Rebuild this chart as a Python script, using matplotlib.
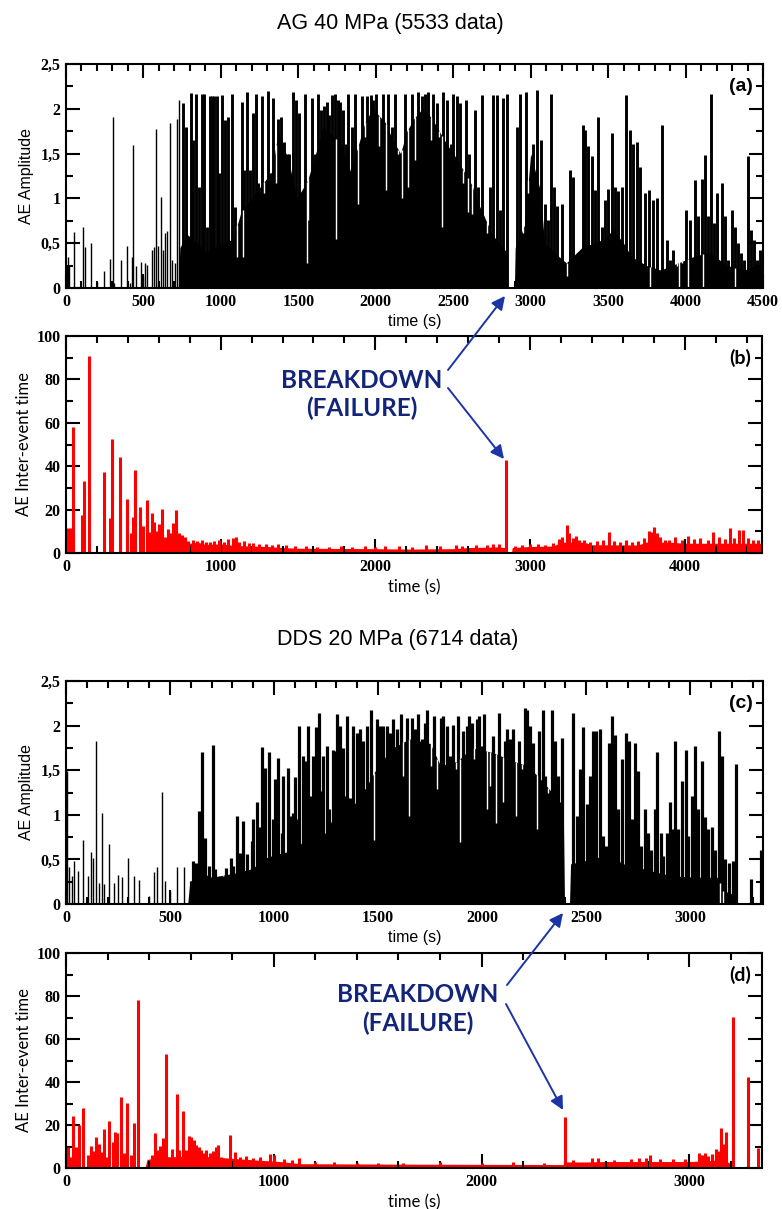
import matplotlib
matplotlib.use('Agg')
import matplotlib.pyplot as plt
from matplotlib.ticker import MultipleLocator, FuncFormatter
import numpy as np

W, H = 782, 1209

# ---- (a) AG 40 MPa : AE amplitude (time s, amplitude) ----
a_spikes = [
    (8, 0.25), (15, 0.35), (22, 0.25), (52, 0.63), (108, 0.68), (123, 0.46), (159, 0.5), (198, 0.07),
    (245, 0.19), (284, 0.32), (301, 1.91), (310, 0.06), (353, 0.31), (392, 0.47), (410, 0.06), (424, 0.35),
    (435, 1.6), (452, 0.25), (484, 0.29), (500, 0.13), (510, 0.28), (520, 0.26), (553, 0.42), (568, 0.46),
    (581, 1.77), (592, 0.47), (611, 1.02), (628, 0.42), (639, 0.61), (654, 0.64), (671, 1.84), (682, 0.31),
    (704, 0.28), (719, 1.89), (732, 2.1),
    (758, 2.06), (775, 1.8), (807, 2.18), (822, 1.65), (839, 2.17), (861, 1.13), (876, 2.17), (891, 2.17),
    (908, 0.68), (930, 2.14), (945, 2.14), (958, 2.14), (973, 2.14), (988, 1.28), (1009, 2.15), (1026, 1.87),
    (1048, 1.91), (1074, 2.16), (1091, 0.9), (1106, 0.35), (1134, 2.08), (1141, 0.35), (1151, 1.32),
    (1171, 2.19), (1188, 1.32), (1205, 1.95), (1227, 2.17), (1242, 1.17), (1263, 2.14), (1278, 1.06),
    (1306, 2.2), (1321, 1.28), (1338, 2.12), (1356, 1.17), (1371, 1.89), (1388, 1.91), (1408, 1.63),
    (1425, 1.5), (1442, 1.5), (1468, 2.19), (1485, 2.1), (1502, 1.95), (1522, 1.09), (1543, 2.17),
    (1554, 0.28), (1565, 0.76), (1586, 2.12), (1608, 1.5), (1629, 2.17), (1644, 1.99), (1666, 2.03),
    (1683, 2.08), (1700, 1.93), (1715, 2.15), (1737, 2.17), (1744, 0.55), (1754, 2.1), (1769, 2.08),
    (1786, 1.99), (1808, 1.61), (1823, 2.17), (1845, 1.8), (1866, 2.17), (1887, 0.94), (1909, 2.14),
    (1930, 1.69), (1945, 2.14), (1967, 2.15), (1984, 2.1), (2001, 2.17), (2023, 1.58), (2044, 2.17),
    (2066, 1.09), (2081, 2.17), (2103, 1.8), (2124, 2.17), (2146, 1.5), (2167, 1.0), (2189, 2.17),
    (2210, 1.13), (2232, 2.17), (2254, 1.43), (2275, 2.19), (2297, 2.14), (2318, 2.17), (2339, 2.19),
    (2354, 1.65), (2372, 2.17), (2393, 2.06), (2410, 1.69), (2426, 0.68), (2436, 2.19), (2458, 2.1),
    (2484, 1.61), (2501, 2.17), (2522, 2.14), (2544, 2.06), (2565, 1.17), (2583, 2.1), (2595, 0.85),
    (2600, 1.5), (2619, 0.83), (2641, 1.99), (2662, 1.13), (2684, 2.15), (2716, 0.61), (2737, 1.13),
    (2755, 2.15), (2781, 2.15), (2802, 0.87), (2824, 2.12), (2845, 2.17),
    (2910, 1.8), (2931, 2.17), (2953, 0.61), (2970, 2.19), (2985, 1.06), (3017, 1.61), (3039, 2.21),
    (3065, 1.65), (3093, 0.94), (3114, 0.76), (3129, 2.17), (3151, 1.13), (3168, 0.91), (3200, 0.94),
    (3232, 0.13), (3254, 1.32), (3275, 1.24), (3336, 1.82), (3351, 1.76), (3372, 1.58), (3394, 1.47),
    (3415, 1.09), (3437, 1.91), (3458, 0.68), (3480, 0.98), (3501, 1.11), (3523, 1.73), (3544, 1.13),
    (3566, 1.08), (3587, 1.13), (3616, 2.15), (3641, 1.76), (3663, 1.61), (3684, 1.63), (3706, 1.35),
    (3738, 1.06), (3766, 1.09), (3770, 0.01), (3792, 0.98), (3814, 1.0), (3846, 1.82), (3878, 0.54),
    (3900, 0.31), (3921, 0.42), (3943, 0.24), (3960, 0.01), (3975, 0.28), (4003, 0.87), (4018, 0.01),
    (4029, 0.76), (4061, 1.21), (4083, 0.8), (4104, 1.22), (4115, 0.01), (4126, 1.48), (4147, 0.8),
    (4164, 2.17), (4184, 0.72), (4205, 1.06), (4233, 1.17), (4255, 0.8), (4276, 0.31), (4298, 0.87),
    (4319, 0.68), (4322, 0.01), (4341, 0.5), (4358, 0.39), (4380, 0.31), (4401, 1.47), (4423, 0.65),
    (4444, 0.54), (4463, 0.31), (4481, 0.42),
]
a_floor = [
    (725, 0.0), (735, 0.45), (780, 0.6), (850, 0.5), (900, 0.4), (1080, 0.55), (1130, 0.85), (1330, 1.3),
    (1370, 1.75), (1440, 1.4), (1490, 1.0), (1560, 1.2), (1620, 1.55), (1660, 1.8), (1780, 1.6),
    (1830, 1.3), (1880, 1.55), (1930, 1.85), (1980, 2.0), (2060, 1.85), (2110, 1.65), (2160, 1.5),
    (2200, 1.75), (2250, 1.9), (2300, 2.0), (2360, 1.9), (2410, 1.75), (2460, 1.6), (2520, 1.45),
    (2570, 1.3), (2620, 1.15), (2660, 0.95), (2700, 0.8), (2750, 0.6), (2845, 0.4), (2850, 0.0),
    (2895, 0.0), (2900, 0.45), (2960, 0.7), (3000, 1.5), (3060, 1.1), (3090, 0.5), (3150, 0.4),
    (3230, 0.28), (3330, 0.45), (3480, 0.55), (3530, 0.65), (3600, 0.5), (3650, 0.35), (3750, 0.25),
    (3840, 0.2), (4050, 0.35), (4150, 0.4), (4270, 0.25), (4380, 0.2), (4450, 0.25), (4500, 0.25),
]

# ---- (b) AG 40 MPa : inter-event time ----
b_spikes = [
    (15, 11.7), (30, 11.7), (43, 58), (101, 17.5), (118, 33), (151, 91), (245, 37.5), (284, 16),
    (299, 52.4), (349, 44.4), (392, 24.7), (418, 9), (430, 16.7), (445, 38.2), (478, 21.4), (500, 12.4),
    (521, 24.4), (538, 9.5), (555, 18.3), (570, 14.4), (585, 10.3), (602, 13.4), (618, 20.1), (640, 7.5),
    (661, 10.9), (676, 9.4), (693, 13.7), (708, 19.8), (730, 9), (747, 8.3), (768, 7.5),
    (790, 5.5), (822, 6), (850, 5.5), (880, 6), (905, 5.2), (930, 5), (960, 5.5), (990, 6), (1020, 5),
    (1050, 6.5), (1080, 6.8), (1098, 7.5), (1120, 5), (1150, 5.5), (1180, 4.5), (1210, 4.8), (1250, 4.2),
    (1290, 4), (1330, 3.8), (1370, 4), (1420, 3.5), (1480, 3), (1550, 3), (1620, 2.8), (1700, 2.9),
    (1780, 3), (1850, 2.8), (1930, 3.2), (2000, 2.9), (2060, 3.2), (2150, 3), (2240, 2.8), (2330, 3.5),
    (2420, 3), (2520, 3.7), (2560, 3.2), (2650, 3.5), (2720, 3.6), (2760, 4), (2800, 4), (2845, 43),
    (2900, 3.2), (2950, 3.8), (3000, 4), (3050, 4.2), (3100, 3.7), (3150, 4.5), (3190, 6.5), (3210, 7.5),
    (3236, 12.9), (3255, 9), (3280, 7), (3300, 8), (3320, 6.2), (3350, 6), (3390, 5), (3430, 5.5),
    (3470, 6), (3512, 9.8), (3540, 5.5), (3580, 5), (3620, 6.2), (3660, 5), (3700, 5.5), (3740, 7),
    (3770, 10), (3785, 9.5), (3802, 12.1), (3820, 9), (3840, 7.5), (3870, 6), (3900, 6), (3940, 7.5),
    (3980, 6), (4020, 7.8), (4060, 6.5), (4100, 7), (4150, 6), (4180, 9.8), (4220, 7.3), (4260, 6.5),
    (4291, 11.7), (4320, 7), (4351, 10.6), (4380, 10.5), (4410, 6.8), (4440, 6), (4476, 6),
]
b_floor = [
    (740, 0), (750, 5), (800, 4.5), (850, 5), (900, 4), (1000, 4.2), (1080, 3.5), (1200, 3.2),
    (1300, 3), (1400, 2.5), (1500, 2.2), (2000, 2), (2200, 1.8), (2500, 2), (2600, 2.5), (2800, 2.8),
    (2835, 2.5), (2838, 0), (2880, 0), (2885, 2.5), (3000, 3), (3150, 3.2), (3200, 5), (3350, 5),
    (3400, 3.8), (3700, 3.7), (3750, 5), (3900, 5), (4000, 4.5), (4500, 4.5),
]

# ---- (c) DDS 20 MPa : AE amplitude ----
c_spikes = [
    (6, 1.49), (16, 0.41), (27, 0.31), (38, 0.48), (59, 0.37), (83, 0.72), (107, 0.31), (119, 0.58),
    (131, 0.52), (143, 1.83), (160, 0.24), (173, 1.02), (184, 0.22), (208, 0.67), (231, 0.24), (252, 0.33),
    (268, 0.3), (300, 0.52), (328, 0.31), (349, 0.27), (397, 0.09), (425, 0.36), (436, 0.41), (460, 1.26),
    (476, 0.26), (500, 0.15), (535, 0.42), (567, 0.42), (599, 0.26), (612, 0.48), (623, 0.46), (641, 1.04),
    (655, 1.7), (668, 0.74), (689, 0.43), (705, 1.78), (716, 0.39), (756, 0.31), (769, 0.4), (791, 0.52),
    (801, 0.43), (820, 0.99), (836, 0.57), (852, 0.93), (868, 0.56), (892, 0.71), (900, 0.95), (916, 1.14),
    (932, 0.86), (940, 1.76), (956, 1.53), (977, 1.7), (993, 0.95), (1004, 1.4), (1020, 1.64), (1036, 0.8),
    (1044, 1.44), (1065, 1.53), (1077, 0.99), (1089, 1.02), (1101, 1.42), (1109, 0.95), (1121, 2.0),
    (1137, 1.66), (1149, 1.6), (1165, 2.0), (1173, 1.21), (1189, 1.66), (1202, 1.98), (1218, 2.14),
    (1229, 1.27), (1237, 1.66), (1253, 1.77), (1266, 1.06), (1282, 1.73), (1293, 1.72), (1301, 2.13),
    (1317, 2.0), (1333, 1.75), (1352, 2.11), (1365, 1.19), (1381, 2.0), (1397, 1.92), (1413, 1.96),
    (1429, 1.83), (1445, 2.0), (1464, 2.18), (1480, 0.72), (1496, 2.07), (1509, 2.0), (1525, 2.0),
    (1541, 2.0), (1557, 1.92), (1573, 2.07), (1589, 1.96), (1608, 2.13), (1621, 1.43), (1637, 2.09),
    (1650, 0.99), (1661, 2.09), (1677, 1.96), (1693, 2.13), (1709, 1.85), (1725, 2.03), (1736, 2.18),
    (1752, 1.55), (1768, 2.11), (1784, 1.29), (1800, 2.09), (1813, 2.11), (1829, 2.0), (1845, 1.66),
    (1858, 2.01), (1874, 1.51), (1885, 2.11), (1893, 0.69), (1909, 1.94), (1925, 2.0), (1938, 2.11),
    (1949, 2.03), (1961, 1.62), (1973, 2.07), (1986, 2.11), (1997, 1.77), (2009, 2.13), (2025, 1.06),
    (2037, 1.32), (2054, 1.88), (2066, 0.91), (2082, 2.14), (2098, 1.14), (2110, 1.83), (2121, 1.96),
    (2134, 1.85), (2150, 1.96), (2162, 0.99), (2178, 1.83), (2190, 1.51), (2206, 2.2), (2217, 2.18),
    (2230, 2.0), (2246, 1.81), (2262, 0.84), (2275, 1.94), (2291, 2.18), (2302, 1.43), (2318, 1.25),
    (2334, 2.18), (2350, 1.83), (2366, 1.43), (2382, 1.86), (2435, 2.14), (2454, 0.99), (2470, 1.51),
    (2486, 1.98), (2502, 1.12), (2518, 1.43), (2531, 1.94), (2547, 1.94), (2566, 1.96), (2582, 0.76),
    (2595, 0.65), (2608, 1.81), (2622, 2.11), (2638, 1.9), (2654, 1.06), (2670, 1.62), (2691, 1.92),
    (2704, 1.83), (2718, 0.95), (2734, 1.81), (2750, 1.49), (2766, 0.65), (2782, 1.06), (2798, 0.8),
    (2814, 0.61), (2830, 1.06), (2842, 1.7), (2858, 0.8), (2871, 0.54), (2887, 0.8), (2903, 1.14),
    (2911, 0.84), (2927, 1.83), (2943, 0.84), (2959, 1.38), (2979, 1.73), (2991, 0.76), (3007, 1.21),
    (3023, 1.77), (3039, 1.06), (3055, 1.6), (3071, 0.97), (3087, 0.84), (3103, 0.86), (3119, 0.61),
    (3140, 1.94), (3143, 0.01), (3151, 1.66), (3160, 0.01), (3167, 0.5), (3188, 0.46), (3204, 0.48),
    (3220, 1.57), (3290, 0.28), (3338, 0.61),
]
c_floor = [
    (585, 0.0), (595, 0.25), (650, 0.35), (700, 0.3), (820, 0.35), (900, 0.4), (940, 0.5), (1000, 0.55),
    (1090, 0.6), (1150, 0.72), (1250, 0.8), (1280, 0.95), (1310, 1.3), (1380, 1.1), (1440, 1.3),
    (1500, 1.55), (1570, 1.75), (1650, 1.85), (1750, 1.8), (1800, 1.55), (1880, 1.6), (1950, 1.75),
    (2050, 1.7), (2150, 1.6), (2220, 1.55), (2300, 1.35), (2390, 1.1), (2396, 0.0), (2420, 0.0),
    (2425, 0.45), (2520, 0.5), (2600, 0.55), (2680, 0.45), (2800, 0.38), (2900, 0.32), (3020, 0.3),
    (3130, 0.3), (3160, 0.15), (3215, 0.1), (3222, 0.0), (3350, 0.0),
]

# ---- (d) DDS 20 MPa : inter-event time ----
d_spikes = [
    (11, 10), (20, 5.3), (35, 24.2), (48, 10), (61, 20), (83, 27.8), (107, 6), (118, 10.2), (131, 8),
    (144, 14.3), (160, 11), (171, 7.6), (184, 18.1), (198, 5.3), (208, 21.9), (228, 12), (236, 16.9),
    (247, 16.4), (264, 33.2), (279, 6.8), (295, 30.4), (311, 6), (327, 20.8), (346, 78), (412, 6),
    (426, 16.4), (441, 8.4), (452, 10.2), (465, 13.8), (479, 53), (492, 5.3), (508, 9), (532, 34.3),
    (545, 8.4), (564, 26.4), (577, 8.4), (591, 14.9), (604, 14.6), (615, 13), (628, 10.7), (639, 9.6),
    (652, 8.4), (663, 6.8), (676, 8.4), (692, 7.2), (708, 8), (724, 9.9), (732, 10.7), (748, 5.3),
    (765, 4.6), (791, 15.5), (812, 7.6), (836, 5), (868, 5.6), (900, 4.6), (932, 5), (980, 6.5),
    (1000, 6), (1050, 4), (1090, 3.5), (1120, 4.5), (1200, 3), (1290, 2.8), (1400, 2.5), (1500, 2.3),
    (1620, 2.5), (1800, 2.6), (2000, 2.4), (2150, 2.8), (2300, 2.5), (2400, 23.6), (2440, 3.5),
    (2530, 4.5), (2560, 4.5), (2640, 3.8), (2720, 4), (2760, 4.8), (2790, 4.5), (2810, 6), (2860, 4),
    (2920, 4.2), (2980, 4), (3045, 7), (3060, 6), (3075, 7.2), (3090, 5.5), (3110, 6.3), (3127, 9),
    (3140, 8), (3151, 18.4), (3163, 11), (3175, 16.9), (3210, 70.4), (3284, 42.5), (3332, 9.1),
]
d_floor = [
    (380, 0), (390, 4), (450, 5), (580, 5.5), (650, 5.5), (800, 4.5), (900, 3.8), (1030, 3), (1130, 2),
    (1600, 1.8), (2390, 1.6), (2410, 2.8), (2500, 2.8), (2600, 3), (3000, 3), (3100, 3.5), (3160, 4),
    (3200, 2), (3218, 0), (3350, 0),
]

titles = ['AG 40 MPa (5533 data)', 'DDS 20 MPa (6714 data)']
panel_tags = ['(a)', '(b)', '(c)', '(d)']

RED = '#ff0000'
NAVY = '#13257a'
ARROW = '#1c34a6'


def draw_series(ax, spikes, floor, color, lw_thin, lw_dense):
    st = np.array([p[0] for p in spikes], dtype=float)
    sv = np.array([p[1] for p in spikes], dtype=float)
    ft = np.array([p[0] for p in floor], dtype=float)
    fv = np.array([p[1] for p in floor], dtype=float)
    ax.fill_between(ft, 0, fv, color=color, lw=0, zorder=1)
    base = np.interp(st, ft, fv, left=0, right=0)
    # bars that sit in the dense part of the record are drawn wider so they merge
    dense = (st >= ft[1]) & (st <= ft[-1])
    up = sv >= base
    lws = np.where(dense, lw_dense, lw_thin)
    ax.vlines(st[up], 0, sv[up], color=color, lw=lws[up], zorder=2)
    dn = ~up
    ax.vlines(st[dn], sv[dn], base[dn], color='white', lw=1.0, zorder=3)


def style_axes(ax, xmax, ymax, xmaj, xmin, ymaj, ymin, comma):
    ax.set_xlim(0, xmax)
    ax.set_ylim(0, ymax)
    ax.xaxis.set_major_locator(MultipleLocator(xmaj))
    ax.xaxis.set_minor_locator(MultipleLocator(xmin))
    ax.yaxis.set_major_locator(MultipleLocator(ymaj))
    ax.yaxis.set_minor_locator(MultipleLocator(ymin))
    if comma:
        ax.yaxis.set_major_formatter(FuncFormatter(lambda v, p: ('%g' % v).replace('.', ',')))
    ax.tick_params(which='both', direction='in', top=True, right=True, width=1.5)
    ax.tick_params(which='major', length=10, pad=4)
    ax.tick_params(which='minor', length=5)
    for lab in ax.get_xticklabels() + ax.get_yticklabels():
        lab.set_fontfamily('Liberation Serif')
        lab.set_fontsize(11.5)
        lab.set_fontweight('bold')
    for s in ax.spines.values():
        s.set_linewidth(1.5)
        s.set_zorder(5)


fig = plt.figure(figsize=(W / 100, H / 100), dpi=100)


def axes_px(left, top, right, bottom):
    return fig.add_axes([left / W, 1 - bottom / H, (right - left) / W, (bottom - top) / H])


ax_a = axes_px(66, 64, 763, 288)
ax_b = axes_px(66, 336, 762, 553)
ax_c = axes_px(66, 681, 763, 904)
ax_d = axes_px(66, 953, 762, 1168)

draw_series(ax_a, a_spikes, a_floor, 'black', 1.0, 2.1)
draw_series(ax_b, b_spikes, b_floor, RED, 2.2, 2.2)
draw_series(ax_c, c_spikes, c_floor, 'black', 1.0, 2.3)
draw_series(ax_d, d_spikes, d_floor, RED, 2.2, 2.2)

style_axes(ax_a, 4500, 2.5, 500, 100, 0.5, 0.25, True)
style_axes(ax_b, 4500, 100, 1000, 200, 20, 10, False)
style_axes(ax_c, 3350, 2.5, 500, 100, 0.5, 0.25, True)
style_axes(ax_d, 3350, 100, 1000, 200, 20, 10, False)

for ax in (ax_a, ax_c):
    ax.set_ylabel('AE Amplitude', family='Liberation Sans', fontsize=11.5)
    ax.yaxis.set_label_coords(-0.046, 0.5)
    ax.set_xlabel('time (s)', family='Liberation Sans', fontsize=11.5)
    ax.xaxis.set_label_coords(0.5, -0.118)
for ax in (ax_b, ax_d):
    ax.set_ylabel('AE Inter-event time', family='Lato', fontsize=12)
    ax.yaxis.set_label_coords(-0.049, 0.5)
    ax.set_xlabel('time (s)', family='Lato', fontsize=12)
    ax.xaxis.set_label_coords(0.5, -0.122)

for ax, tag, fam in zip((ax_a, ax_b, ax_c, ax_d), panel_tags,
                        ('Liberation Sans', 'Lato', 'Liberation Sans', 'Lato')):
    ax.text(0.985, 0.9, tag, transform=ax.transAxes, ha='right', va='center',
            family=fam, fontsize=14, fontweight='bold', zorder=6)

fig.text(390 / W, 1 - 23 / H, titles[0], ha='center', va='center', family='Liberation Sans', fontsize=15.5)
fig.text(398 / W, 1 - 640 / H, titles[1], ha='center', va='center', family='Liberation Sans', fontsize=15.5)


def label_with_arrows(cx, y1, y2, tail1, tip1, tail2, tip2, ax):
    fig.text(cx / W, 1 - y1 / H, 'BREAKDOWN', ha='center', va='center', family='Lato',
             fontsize=17.5, fontweight='bold', color=NAVY)
    fig.text(cx / W, 1 - y2 / H, '(FAILURE)', ha='center', va='center', family='Lato',
             fontsize=17.5, fontweight='bold', color=NAVY)
    for tail, tip in ((tail1, tip1), (tail2, tip2)):
        ax.annotate('', xy=(tip[0], H - tip[1]), xycoords='figure pixels',
                    xytext=(tail[0], H - tail[1]), textcoords='figure pixels',
                    arrowprops=dict(arrowstyle='-|>', color=ARROW, lw=1.4, mutation_scale=20,
                                    shrinkA=0, shrinkB=0),
                    annotation_clip=False, zorder=7)


label_with_arrows(362, 380, 408, (448, 370), (505, 296), (448, 388), (504, 459), ax_b)
label_with_arrows(418, 995, 1023, (507, 985), (563, 913), (506, 1004), (563, 1110), ax_d)

fig.savefig('out.png', dpi=100)
